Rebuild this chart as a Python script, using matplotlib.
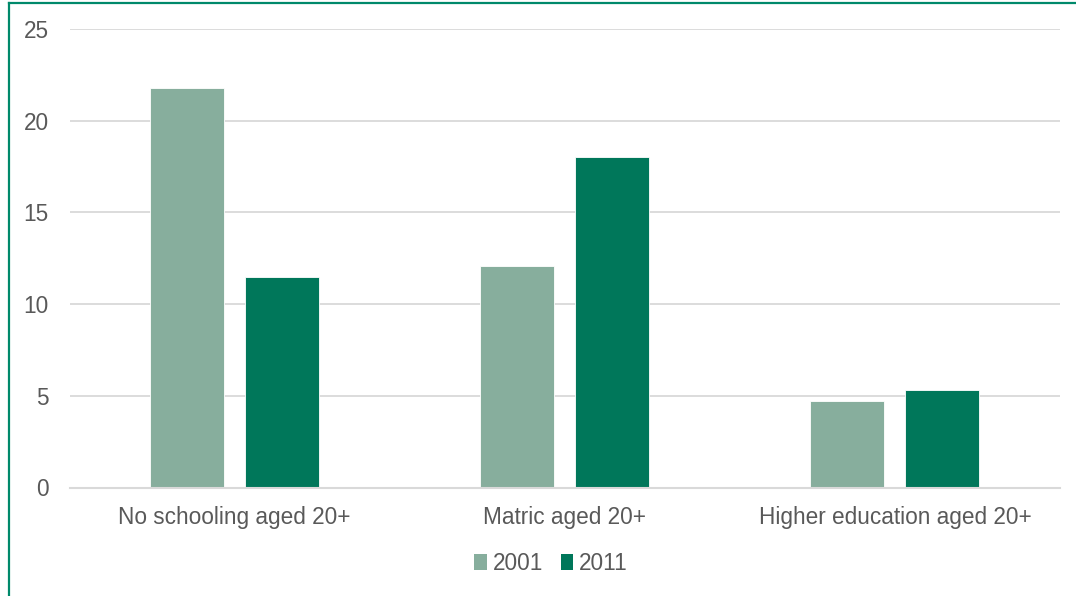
import matplotlib
matplotlib.use("Agg")
import matplotlib.pyplot as plt
from matplotlib.lines import Line2D
import numpy as np

categories = ["No schooling aged 20+", "Matric aged 20+", "Higher education aged 20+"]
series_names = ["2001", "2011"]
values_2001 = [21.8, 12.1, 4.7]
values_2011 = [11.5, 18.0, 5.3]
yticks = [0, 5, 10, 15, 20, 25]

colors = ["#87AE9D", "#00775A"]

plt.rcParams['font.family'] = ['Liberation Sans', 'DejaVu Sans']

W, H = 1076, 596
fig = plt.figure(figsize=(W / 100, H / 100), dpi=100)
ax = fig.add_axes([69.5 / W, (H - 487.5) / H, (1060 - 69.5) / W, (487.5 - 29) / H])

x = np.arange(len(categories))
width = 0.224
offset = 0.144
ax.bar(x - offset, values_2001, width, color=colors[0], label=series_names[0],
       edgecolor="white", linewidth=0.6, zorder=3)
ax.bar(x + offset, values_2011, width, color=colors[1], label=series_names[1],
       edgecolor="white", linewidth=0.6, zorder=3)

ax.set_xlim(-0.5, len(categories) - 0.5)
ax.set_ylim(0, 25)
ax.set_yticks(yticks)
ax.set_yticklabels([str(t) for t in yticks])
ax.set_xticks(x)
ax.set_xticklabels(categories)

ax.grid(axis="y", color="#D9D9D9", linewidth=1.3, zorder=0)
ax.set_axisbelow(True)
for s in ["top", "right", "left"]:
    ax.spines[s].set_visible(False)
ax.spines["bottom"].set_color("#D9D9D9")
ax.spines["bottom"].set_linewidth(1.5)
ax.spines["bottom"].set_zorder(4)

fs = 16.3
ax.tick_params(axis="y", length=0, pad=15, labelsize=fs, labelcolor="#595959")
ax.tick_params(axis="x", length=0, pad=13, labelsize=fs, labelcolor="#595959")

leg = fig.legend(loc="center", bbox_to_anchor=(551 / W, (H - 563) / H), ncol=2,
                 frameon=False, fontsize=fs, handlelength=0.55, handleheight=0.7,
                 handletextpad=0.25, columnspacing=0.8, labelcolor="#595959")
for h in leg.legend_handles:
    h.set_edgecolor("none")

border = "#00896B"
fig.add_artist(Line2D([8.5 / W, 8.5 / W], [0, (H - 2.5) / H], transform=fig.transFigure,
                      color=border, linewidth=1.6))
fig.add_artist(Line2D([8.5 / W, 1], [(H - 2.5) / H, (H - 2.5) / H], transform=fig.transFigure,
                      color=border, linewidth=1.6))

fig.savefig("out.png", dpi=100, facecolor="white")
